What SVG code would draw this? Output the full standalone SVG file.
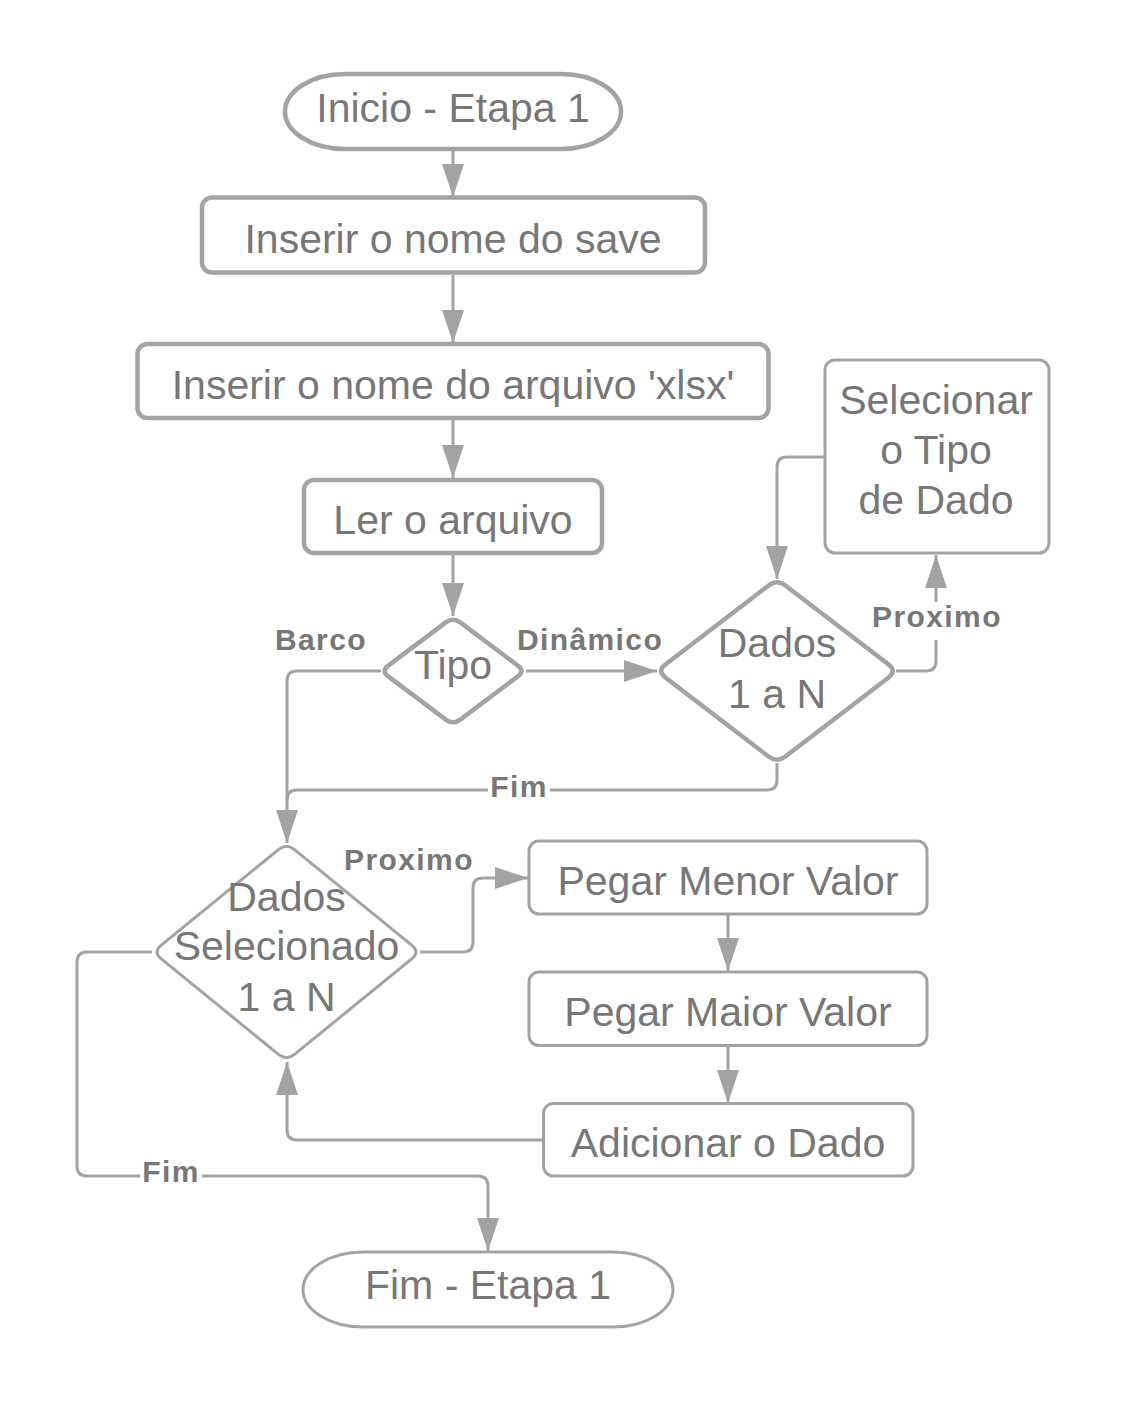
<svg xmlns="http://www.w3.org/2000/svg" width="1123" height="1403" viewBox="0 0 1123 1403">
<defs>
<marker id="arr" markerUnits="userSpaceOnUse" markerWidth="34" markerHeight="22" refX="33" refY="11" orient="auto">
<path d="M0,0 L33,11 L0,22 Z" fill="#a3a3a3"/>
</marker>
<style>
.n{fill:#ffffff;stroke:#a3a3a3;stroke-linejoin:round}
.thick{stroke-width:4.5}
.thin{stroke-width:3}
.t{font-family:"Liberation Sans",Arial,sans-serif;font-size:41px;fill:#777777;text-anchor:middle}
.c{fill:none;stroke:#a3a3a3;stroke-width:3}
.a{marker-end:url(#arr)}
.l{font-family:"Liberation Sans",Arial,sans-serif;font-size:30px;font-weight:bold;fill:#777777;text-anchor:middle;letter-spacing:1.4px}
.bg{fill:#ffffff}
</style>
</defs>
<rect width="1123" height="1403" fill="#ffffff"/>

<g id="connectors">
<path class="c a" d="M453,151 V197"/>
<path class="c a" d="M453,275 V343"/>
<path class="c a" d="M453,420 V478"/>
<path class="c a" d="M453,555 V616"/>
<path class="c a" d="M526,671 H657"/>
<path class="c a" d="M381,671 H297 Q287,671 287,681 V843"/>
<path class="c" d="M777,763 V780 Q777,790 767,790 H297 Q287,790 287,800"/>
<path class="c a" d="M896,671 H926 Q936,671 936,661 V555"/>
<path class="c a" d="M824,457 H787 Q777,457 777,467 V579"/>
<path class="c a" d="M420,952 H463 Q473,952 473,942 V888 Q473,878 483,878 H528"/>
<path class="c a" d="M728,915 V971"/>
<path class="c a" d="M728,1046 V1103"/>
<path class="c a" d="M543,1140 H297 Q287,1140 287,1130 V1062"/>
<path class="c a" d="M152,952 H87 Q77,952 77,962 V1166 Q77,1176 87,1176 H478 Q488,1176 488,1186 V1251"/>
<text class="l" x="321" y="650">Barco</text>
<text class="l" x="590" y="650">Dinâmico</text>
<rect class="bg" x="488" y="772" width="62" height="30"/>
<text class="l" x="519" y="797">Fim</text>
<rect class="bg" x="868" y="602" width="136" height="38"/>
<text class="l" x="937" y="627">Proximo</text>
<text class="l" x="409" y="870">Proximo</text>
<rect class="bg" x="140" y="1160" width="62" height="28"/>
<text class="l" x="171" y="1182">Fim</text>
</g>

<g id="inicio">
<path class="n thick" d="M345,74 H561 A60,37.5 0 0 1 561,149 H345 A60,37.5 0 0 1 345,74 Z"/>
<text class="t" x="453" y="122">Inicio - Etapa 1</text>
</g>
<g id="inserir-save">
<rect class="n thick" x="202" y="197.5" width="503" height="75" rx="10"/>
<text class="t" x="453" y="253">Inserir o nome do save</text>
</g>
<g id="inserir-arquivo">
<rect class="n thick" x="137.5" y="344" width="631" height="74" rx="10"/>
<text class="t" x="453" y="399">Inserir o nome do arquivo 'xlsx'</text>
</g>
<g id="ler-arquivo">
<rect class="n thick" x="304" y="480" width="298" height="73" rx="10"/>
<text class="t" x="453" y="534">Ler o arquivo</text>
</g>
<g id="tipo">
<path class="n thick" d="M388.2,665.6 L445.8,622.4 Q453,617 460.2,622.4 L517.8,665.6 Q525,671 517.8,676.4 L460.2,719.6 Q453,725 445.8,719.6 L388.2,676.4 Q381,671 388.2,665.6 Z"/>
<text class="t" x="453" y="679">Tipo</text>
</g>
<g id="dados-1-a-n">
<path class="n thick" d="M665.4,664.56 L768.6,585.44 Q777,579 785.4,585.44 L888.6,664.56 Q897,671 888.6,677.44 L785.4,756.56 Q777,763 768.6,756.56 L665.4,677.44 Q657,671 665.4,664.56 Z"/>
<text class="t" x="777" y="657">Dados</text>
<text class="t" x="777" y="708">1 a N</text>
</g>
<g id="selecionar-tipo">
<rect class="n thin" x="825" y="360" width="224" height="193" rx="10"/>
<text class="t" x="936" y="414">Selecionar</text>
<text class="t" x="936" y="464">o Tipo</text>
<text class="t" x="936" y="514">de Dado</text>
</g>
<g id="dados-selecionado">
<path class="n thin" d="M161,945.46 L278.5,849.54 Q286.5,843 294.5,849.54 L412,945.46 Q420,952 412,958.54 L294.5,1054.46 Q286.5,1061 278.5,1054.46 L161,958.54 Q153,952 161,945.46 Z"/>
<text class="t" x="286.5" y="911">Dados</text>
<text class="t" x="286.5" y="960">Selecionado</text>
<text class="t" x="286.5" y="1011">1 a N</text>
</g>
<g id="pegar-menor">
<rect class="n thin" x="529" y="841" width="398" height="73" rx="10"/>
<text class="t" x="728" y="895">Pegar Menor Valor</text>
</g>
<g id="pegar-maior">
<rect class="n thin" x="529" y="972" width="398" height="73.5" rx="10"/>
<text class="t" x="728" y="1026">Pegar Maior Valor</text>
</g>
<g id="adicionar-dado">
<rect class="n thin" x="543.5" y="1103.5" width="369.5" height="72.5" rx="10"/>
<text class="t" x="728" y="1157">Adicionar o Dado</text>
</g>
<g id="fim">
<path class="n thin" d="M363,1252 H613 A60,37.5 0 0 1 613,1327 H363 A60,37.5 0 0 1 363,1252 Z"/>
<text class="t" x="488" y="1299">Fim - Etapa 1</text>
</g>
</svg>
